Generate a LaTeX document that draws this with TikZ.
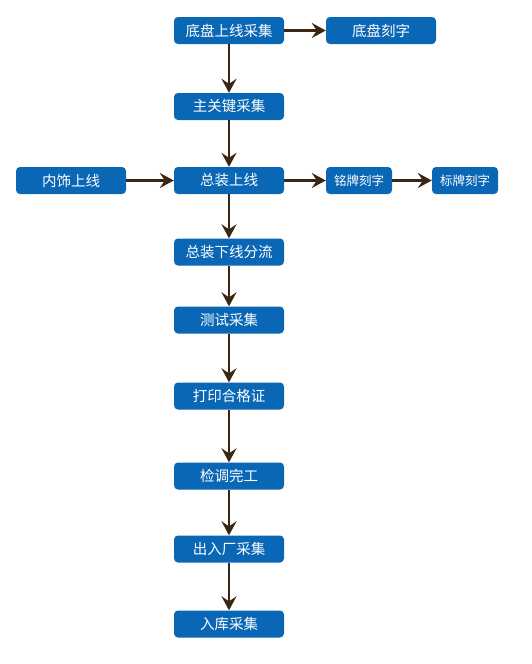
\documentclass[tikz,border=0pt]{standalone}
\usepackage{fontspec}
\newfontfamily\cjk{Noto Sans CJK SC}
\usetikzlibrary{arrows.meta, positioning}
\definecolor{boxblue}{HTML}{0A67B5}
\definecolor{arrowbrown}{HTML}{3B2613}
\tikzstyle{station} = [
	rectangle,
	rounded corners=4pt,
	minimum width=110pt,
	minimum height=27pt,
	inner sep=0pt,
	text centered,
	fill=boxblue,
	text=white,
	font=\cjk\fontsize{14.5pt}{16pt}\selectfont
]
\tikzstyle{engrave} = [
	station,
	minimum width=66pt,
	font=\cjk\fontsize{12.5pt}{14pt}\selectfont
]
\tikzstyle{arrow} = [line width=2.2pt, draw=arrowbrown, -{Stealth[length=14pt,width=15pt,inset=5pt]}]

\begin{document}
\begin{tikzpicture}[node distance=74pt]
	\useasboundingbox (0,0) rectangle (531pt,-664pt);
	\node (chassis) [station] at (229pt,-30.5pt) {底盘上线采集};
	\node (chassismark) [station, right of=chassis, xshift=78pt] {底盘刻字};
	\node (keyparts) [station, below of=chassis, yshift=-2pt] {主关键采集};
	\node (assembly) [station, below of=keyparts] {总装上线};
	\node (trim) [station, left of=assembly, xshift=-84pt] {内饰上线};
	\node (nameplate) [engrave, right of=assembly, xshift=56pt] {铭牌刻字};
	\node (label) [engrave, right of=nameplate, xshift=32pt] {标牌刻字};
	\node (offline) [station, below of=assembly, yshift=2.5pt] {总装下线分流};
	\node (test) [station, below of=offline, yshift=6pt] {测试采集};
	\node (cert) [station, below of=test, yshift=-2pt] {打印合格证};
	\node (adjust) [station, below of=cert, yshift=-6pt] {检调完工};
	\node (gate) [station, below of=adjust, yshift=1pt] {出入厂采集};
	\node (store) [station, below of=gate, yshift=-1pt] {入库采集};
	
	\draw [arrow] (chassis) -- (chassismark);
	\draw [arrow] (chassis) -- (keyparts);
	\draw [arrow] (keyparts) -- (assembly);
	\draw [arrow] (trim) -- (assembly);
	\draw [arrow] (assembly) -- (nameplate);
	\draw [arrow] (nameplate) -- (label);
	\draw [arrow] (assembly) -- (offline);
	\draw [arrow] (offline) -- (test);
	\draw [arrow] (test) -- (cert);
	\draw [arrow] (cert) -- (adjust);
	\draw [arrow] (adjust) -- (gate);
	\draw [arrow] (gate) -- (store);
\end{tikzpicture}
\end{document}
